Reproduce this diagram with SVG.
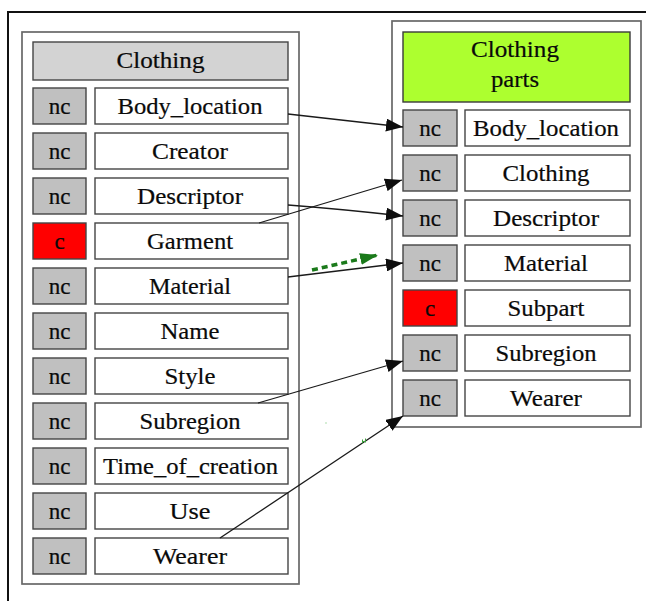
<svg xmlns="http://www.w3.org/2000/svg" width="646" height="601" viewBox="0 0 646 601">
  <defs>
    <marker id="arrow" markerUnits="userSpaceOnUse" viewBox="0 0 17 13" markerWidth="17" markerHeight="13" refX="17" refY="6.5" orient="auto">
      <path d="M0,0 L17,6.5 L0,13 z" fill="#0d0d0d" stroke="none"/>
    </marker>
    <marker id="arrow-green" markerUnits="userSpaceOnUse" viewBox="0 0 18 12" markerWidth="18" markerHeight="12" refX="18" refY="6" orient="auto">
      <path d="M0,0 L18,6 L0,12 z" fill="#1b7a1b" stroke="none"/>
    </marker>
  </defs>
  <style>
    .frame { fill: none; stroke: #111; stroke-width: 2; }
    .table { fill: #fff; stroke: #686868; stroke-width: 1.7; }
    .cell { fill: #fff; stroke: #454545; stroke-width: 1.4; }
    .nc { fill: #c0c0c0; stroke: #454545; stroke-width: 1.4; }
    .c { fill: #ff0000; stroke: #454545; stroke-width: 1.4; }
    .head { fill: #d3d3d3; stroke: #454545; stroke-width: 1.4; }
    .head-green { fill: #adff2f; stroke: #3a3a3a; stroke-width: 1.4; }
    text { font-family: "Liberation Serif", "Times New Roman", serif; font-size: 23px; fill: #0a0a0a; stroke: #0a0a0a; stroke-width: 0.2; text-anchor: middle; }
    .edge { fill: none; stroke: #1a1a1a; stroke-width: 1.3; marker-end: url(#arrow); }
    .hint { fill: none; stroke: #1b7a1b; stroke-width: 3.5; stroke-dasharray: 6 4; marker-end: url(#arrow-green); }
    .speck { fill: none; stroke: #3f9f3f; stroke-width: 1; }
  </style>

  <!-- page frame (top and left rules) -->
  <path class="frame" d="M8,601 V12 H646"/>

  <!-- table: Clothing -->
  <g id="clothing">
    <rect class="table" x="22" y="32" width="277" height="552"/>
    <rect class="head" x="33" y="42" width="255" height="38"/>
    <text x="160.5" y="68" textLength="88" lengthAdjust="spacingAndGlyphs">Clothing</text>

    <g id="clothing-body_location">
      <rect class="nc" x="33" y="88" width="53" height="36"/>
      <rect class="cell" x="95" y="88" width="193" height="36"/>
      <text x="59.5" y="114">nc</text>
      <text x="190" y="114" textLength="145" lengthAdjust="spacingAndGlyphs">Body_location</text>
    </g>
    <g id="clothing-creator">
      <rect class="nc" x="33" y="133" width="53" height="36"/>
      <rect class="cell" x="95" y="133" width="193" height="36"/>
      <text x="59.5" y="159">nc</text>
      <text x="190" y="159" textLength="76" lengthAdjust="spacingAndGlyphs">Creator</text>
    </g>
    <g id="clothing-descriptor">
      <rect class="nc" x="33" y="178" width="53" height="36"/>
      <rect class="cell" x="95" y="178" width="193" height="36"/>
      <text x="59.5" y="204">nc</text>
      <text x="190" y="204" textLength="106" lengthAdjust="spacingAndGlyphs">Descriptor</text>
    </g>
    <g id="clothing-garment">
      <rect class="c" x="33" y="223" width="53" height="36"/>
      <rect class="cell" x="95" y="223" width="193" height="36"/>
      <text x="59.5" y="249">c</text>
      <text x="190" y="249" textLength="86" lengthAdjust="spacingAndGlyphs">Garment</text>
    </g>
    <g id="clothing-material">
      <rect class="nc" x="33" y="268" width="53" height="36"/>
      <rect class="cell" x="95" y="268" width="193" height="36"/>
      <text x="59.5" y="294">nc</text>
      <text x="190" y="294" textLength="82" lengthAdjust="spacingAndGlyphs">Material</text>
    </g>
    <g id="clothing-name">
      <rect class="nc" x="33" y="313" width="53" height="36"/>
      <rect class="cell" x="95" y="313" width="193" height="36"/>
      <text x="59.5" y="339">nc</text>
      <text x="190" y="339" textLength="59" lengthAdjust="spacingAndGlyphs">Name</text>
    </g>
    <g id="clothing-style">
      <rect class="nc" x="33" y="358" width="53" height="36"/>
      <rect class="cell" x="95" y="358" width="193" height="36"/>
      <text x="59.5" y="384">nc</text>
      <text x="190" y="384" textLength="51" lengthAdjust="spacingAndGlyphs">Style</text>
    </g>
    <g id="clothing-subregion">
      <rect class="nc" x="33" y="403" width="53" height="36"/>
      <rect class="cell" x="95" y="403" width="193" height="36"/>
      <text x="59.5" y="429">nc</text>
      <text x="190" y="429" textLength="101" lengthAdjust="spacingAndGlyphs">Subregion</text>
    </g>
    <g id="clothing-time_of_creation">
      <rect class="nc" x="33" y="448" width="53" height="36"/>
      <rect class="cell" x="95" y="448" width="193" height="36"/>
      <text x="59.5" y="474">nc</text>
      <text x="190.5" y="474" textLength="175" lengthAdjust="spacingAndGlyphs">Time_of_creation</text>
    </g>
    <g id="clothing-use">
      <rect class="nc" x="33" y="493" width="53" height="36"/>
      <rect class="cell" x="95" y="493" width="193" height="36"/>
      <text x="59.5" y="519">nc</text>
      <text x="190" y="519" textLength="41" lengthAdjust="spacingAndGlyphs">Use</text>
    </g>
    <g id="clothing-wearer">
      <rect class="nc" x="33" y="538" width="53" height="36"/>
      <rect class="cell" x="95" y="538" width="193" height="36"/>
      <text x="59.5" y="564">nc</text>
      <text x="190" y="564" textLength="74" lengthAdjust="spacingAndGlyphs">Wearer</text>
    </g>
  </g>

  <!-- table: Clothing parts -->
  <g id="clothing-parts">
    <rect class="table" x="392" y="21" width="249" height="406"/>
    <rect class="head-green" x="403" y="32" width="227" height="70"/>
    <text x="515" y="57" textLength="88" lengthAdjust="spacingAndGlyphs">Clothing</text>
    <text x="515" y="87" textLength="48" lengthAdjust="spacingAndGlyphs">parts</text>

    <g id="parts-body_location">
      <rect class="nc" x="403" y="110" width="54" height="36"/>
      <rect class="cell" x="465" y="110" width="165" height="36"/>
      <text x="430" y="136">nc</text>
      <text x="546" y="136" textLength="146" lengthAdjust="spacingAndGlyphs">Body_location</text>
    </g>
    <g id="parts-clothing">
      <rect class="nc" x="403" y="155" width="54" height="36"/>
      <rect class="cell" x="465" y="155" width="165" height="36"/>
      <text x="430" y="181">nc</text>
      <text x="546" y="181" textLength="87" lengthAdjust="spacingAndGlyphs">Clothing</text>
    </g>
    <g id="parts-descriptor">
      <rect class="nc" x="403" y="200" width="54" height="36"/>
      <rect class="cell" x="465" y="200" width="165" height="36"/>
      <text x="430" y="226">nc</text>
      <text x="546" y="226" textLength="106" lengthAdjust="spacingAndGlyphs">Descriptor</text>
    </g>
    <g id="parts-material">
      <rect class="nc" x="403" y="245" width="54" height="36"/>
      <rect class="cell" x="465" y="245" width="165" height="36"/>
      <text x="430" y="271">nc</text>
      <text x="546" y="271" textLength="84" lengthAdjust="spacingAndGlyphs">Material</text>
    </g>
    <g id="parts-subpart">
      <rect class="c" x="403" y="290" width="54" height="36"/>
      <rect class="cell" x="465" y="290" width="165" height="36"/>
      <text x="430" y="316">c</text>
      <text x="546" y="316" textLength="77" lengthAdjust="spacingAndGlyphs">Subpart</text>
    </g>
    <g id="parts-subregion">
      <rect class="nc" x="403" y="335" width="54" height="36"/>
      <rect class="cell" x="465" y="335" width="165" height="36"/>
      <text x="430" y="361">nc</text>
      <text x="546" y="361" textLength="101" lengthAdjust="spacingAndGlyphs">Subregion</text>
    </g>
    <g id="parts-wearer">
      <rect class="nc" x="403" y="380" width="54" height="36"/>
      <rect class="cell" x="465" y="380" width="165" height="36"/>
      <text x="430" y="406">nc</text>
      <text x="546" y="406" textLength="72" lengthAdjust="spacingAndGlyphs">Wearer</text>
    </g>
  </g>

  <!-- connectors between matching attributes -->
  <g id="connectors">
    <path class="edge" d="M288,114 L403,127"/>
    <path class="edge" d="M259,223 L402,180"/>
    <path class="edge" d="M288,205 Q340,209 403,216"/>
    <path class="edge" d="M288,277 L403,263"/>
    <path class="edge" d="M258,403 L403,361"/>
    <path class="edge" d="M220,538 L403,416"/>
    <path class="hint" d="M312,270 L378,255"/>
    <path class="speck" d="M362.5,439.5 v4 M365.5,438.5 v4 M362.5,441.5 h3"/>
    <circle cx="326" cy="423" r="0.7" fill="#8fcf8f"/>
  </g>
</svg>
